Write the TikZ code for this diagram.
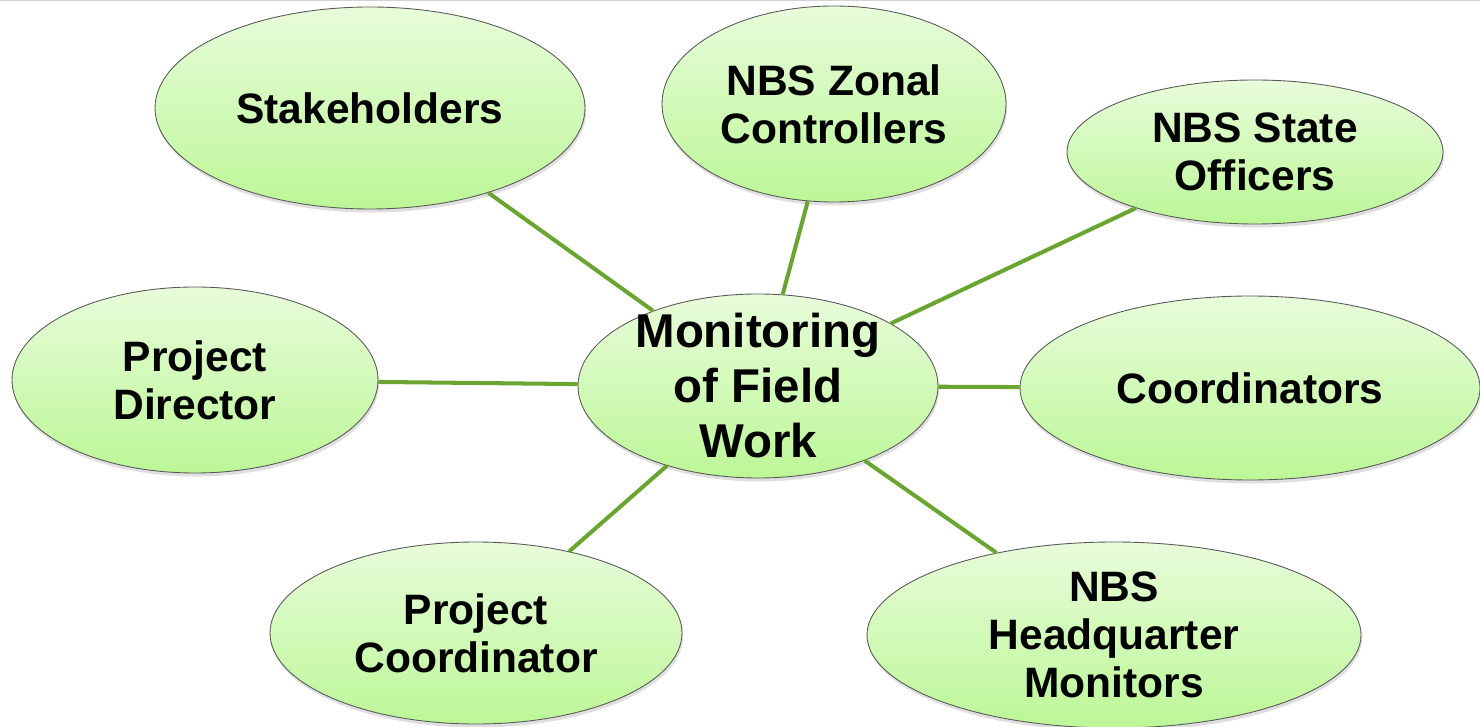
\documentclass[tikz,border=0pt]{standalone}
\usepackage{fontspec}
\setmainfont{Liberation Sans}
\usetikzlibrary{shapes.geometric,shadows}
\definecolor{linkgreen}{HTML}{6AA532}
\definecolor{topgreen}{HTML}{E8FCDA}
\definecolor{botgreen}{HTML}{BCF797}
\begin{document}
\begin{tikzpicture}[
  bubble/.style={ellipse, draw=gray!70!black, line width=0.5pt,
    top color=topgreen, bottom color=botgreen, inner sep=-6mm, align=center,
    font=\fontsize{24.2}{27.3}\selectfont\bfseries,
    drop shadow={shadow xshift=0.6pt, shadow yshift=-2pt, opacity=0.25}},
  link/.style={line width=2.3pt, color=linkgreen}]
  \useasboundingbox (0,0) rectangle (29.6,14.52);
  \draw[gray!35, line width=1.6pt] (0,14.52) -- (29.6,14.52);
  % centre
  \node[bubble, minimum width=7.2cm, minimum height=3.68cm,
    font=\fontsize{27}{31.3}\selectfont\bfseries] (mon) at (15.16,6.80) {Monitoring\\of Field\\Work};
  % around it
  \node[bubble, minimum width=8.6cm, minimum height=4.04cm] (stake) at (7.40,12.36) {Stakeholders};
  \node[bubble, minimum width=6.88cm, minimum height=3.92cm] (zonal) at (16.68,12.44) {NBS Zonal\\Controllers};
  \node[bubble, minimum width=7.52cm, minimum height=2.88cm] (state) at (25.10,11.48) {NBS State\\Officers};
  \node[bubble, minimum width=7.32cm, minimum height=3.72cm] (dir) at (3.90,6.92) {Project\\Director};
  \node[bubble, minimum width=9.2cm, minimum height=3.68cm] (coord) at (25.00,6.76) {Coordinators};
  \node[bubble, minimum width=8.24cm, minimum height=3.64cm] (pc) at (9.52,1.86) {Project\\Coordinator};
  \node[bubble, minimum width=9.88cm, minimum height=3.72cm] (hq) at (22.28,1.82) {NBS\\Headquarter\\Monitors};
  \foreach \n in {stake,zonal,state,dir,coord,pc,hq}
    \draw[link] (mon) -- (\n);
\end{tikzpicture}
\end{document}
